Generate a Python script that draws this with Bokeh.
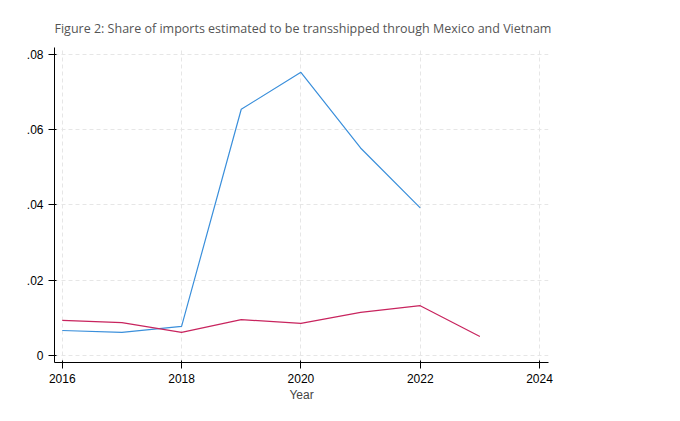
from bokeh.plotting import figure
from bokeh.models import Range1d, FixedTicker
from bokeh.embed import file_html
from bokeh.resources import INLINE

years_vn = [2016, 2017, 2018, 2019, 2020, 2021, 2022]
vietnam = [0.0066, 0.0061, 0.0077, 0.0654, 0.0752, 0.0551, 0.0392]
years_mx = [2016, 2017, 2018, 2019, 2020, 2021, 2022, 2023]
mexico = [0.0093, 0.0087, 0.0061, 0.0095, 0.0085, 0.0114, 0.0132, 0.0050]
y_ticks = [0, 0.02, 0.04, 0.06, 0.08]
y_labels = {0: "0", 0.02: ".02", 0.04: ".04", 0.06: ".06", 0.08: ".08"}
x_ticks = [2016, 2018, 2020, 2022, 2024]

p = figure(frame_width=494, frame_height=315, output_backend="svg", toolbar_location=None,
           x_range=Range1d(2015.87, 2024.15), y_range=Range1d(-0.0019, 0.0818),
           min_border_left=54, min_border_top=47, min_border_bottom=40, min_border_right=10)
p.outline_line_color = None
p.title.text = "Figure 2: Share of imports estimated to be transshipped through Mexico and Vietnam"
p.title.text_font = "Open Sans"
p.title.text_font_style = "normal"
p.title.text_font_size = "12.5px"
p.title.text_color = "#555555"
p.title.align = "left"
p.title.offset = 0
p.title.standoff = 22

for ax in (p.xaxis[0], p.yaxis[0]):
    ax.axis_line_color = "black"
    ax.major_tick_line_color = "black"
    ax.minor_tick_line_color = None
    ax.major_label_text_font = "Liberation Sans"
    ax.major_label_text_font_size = "12px"
    ax.major_label_text_color = "black"
p.xaxis.ticker = FixedTicker(ticks=x_ticks)
p.yaxis.ticker = FixedTicker(ticks=y_ticks)
p.yaxis.major_label_overrides = y_labels
p.yaxis.major_label_orientation = "horizontal"
p.xaxis.axis_label = "Year"
p.xaxis.axis_label_text_font = "Liberation Sans"
p.xaxis.axis_label_text_font_style = "normal"
p.xaxis.axis_label_text_font_size = "12px"
p.xaxis.axis_label_standoff = 2
for g in (p.xgrid[0], p.ygrid[0]):
    g.grid_line_color = "#e6e6e6"
    g.grid_line_dash = "4 3"

p.line(years_vn, vietnam, color="#3a8fdb", line_width=1.2, legend_label="Vietnam")
p.line(years_mx, mexico, color="#c8245e", line_width=1.2, legend_label="Mexico")
leg = p.legend[0]
leg.location = "center"
leg.border_line_color = None
leg.background_fill_alpha = 0
leg.label_text_font = "Liberation Sans"
leg.label_text_font_size = "12px"
leg.glyph_width = 38
leg.spacing = 0
leg.padding = 5
p.add_layout(leg, "right")

open("out.html", "w").write(file_html(p, INLINE))
